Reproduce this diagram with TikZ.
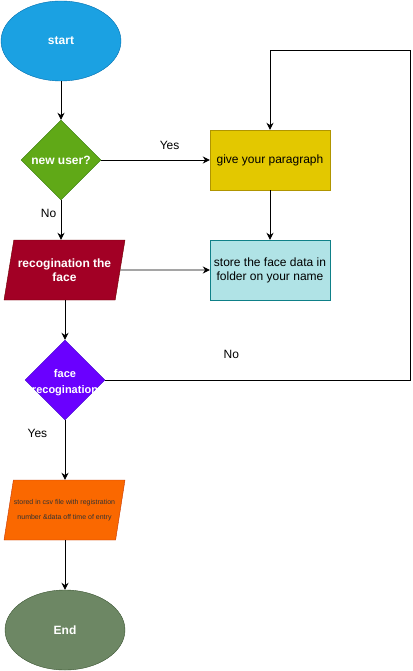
\documentclass[tikz,border=0pt]{standalone}
\usepackage{fontspec}
\setmainfont{Liberation Sans}
\usetikzlibrary{shapes.geometric, arrows.meta}

\definecolor{startfill}{HTML}{1BA1E2}
\definecolor{startline}{HTML}{006EAF}
\definecolor{userfill}{HTML}{60A917}
\definecolor{userline}{HTML}{2D7600}
\definecolor{givefill}{HTML}{E3C800}
\definecolor{giveline}{HTML}{B09500}
\definecolor{storefill}{HTML}{B0E3E6}
\definecolor{storeline}{HTML}{0E8088}
\definecolor{recogfill}{HTML}{A20025}
\definecolor{recogline}{HTML}{6F0000}
\definecolor{facefill}{HTML}{6A00FF}
\definecolor{faceline}{HTML}{3700CC}
\definecolor{csvfill}{HTML}{FA6800}
\definecolor{csvline}{HTML}{C73500}
\definecolor{endfill}{HTML}{6D8764}
\definecolor{endline}{HTML}{3A5431}

\begin{document}
\begin{tikzpicture}[x=1pt, y=-1pt,
  every node/.style={font=\fontsize{12}{14}\selectfont, align=center},
  terminal/.style={ellipse, draw, minimum width=120pt, minimum height=80pt, text=white, font=\fontsize{12}{14}\selectfont\bfseries},
  decision/.style={diamond, draw, minimum width=80pt, minimum height=80pt, inner sep=0pt},
  process/.style={rectangle, draw, minimum width=120pt, minimum height=60pt},
  inout/.style={trapezium, draw, trapezium left angle=71.57, trapezium right angle=108.43, trapezium stretches body, minimum width=121pt, minimum height=60pt, inner xsep=0pt},
  flow/.style={-{Stealth[length=7pt, width=7pt]}, line width=0.9pt},
  white text/.style={text=white, font=\fontsize{12}{14}\selectfont\bfseries}]
  \useasboundingbox (0,0) rectangle (412,671);

  \node[terminal, fill=startfill, draw=startline] (start) at (61,41) {start};
  \node[decision, fill=userfill, draw=userline,
    label={[white text]center:new user?}] (newuser) at (61,160) {};
  \node[process, fill=givefill, draw=giveline] (give) at (270,160) {give your paragraph};
  \node[process, fill=storefill, draw=storeline] (store) at (270,270) {store the face data in\\folder on your name};
  \node[inout, fill=recogfill, draw=recogline, white text] (recog) at (64.5,270) {recogination the\\face};
  \node[decision, fill=facefill, draw=faceline,
    label={[white text, font=\fontsize{11}{16}\selectfont\bfseries, yshift=-3pt]center:face\\recogination}] (face) at (65,380) {};
  \node[inout, fill=csvfill, draw=csvline, text=black!80, font=\fontsize{7}{15}\selectfont] (csv) at (64.5,510) {stored in csv file with registration\\number \&data off time of entry};
  \node[terminal, fill=endfill, draw=endline] (end) at (65,630) {End};
  \coordinate (turn) at (410,50);

  \draw[flow] (start) -- (newuser);
  \draw[flow] (newuser.east) -- node[pos=0.63, above=7pt] {Yes} (give.west);
  \draw[flow] (give) -- (store);
  \draw[flow] (newuser.south) -- node[pos=0.33, left=1pt] {No} (newuser.south |- recog.north);
  \draw[flow] (recog.east) -- (store.west);
  \draw[flow] (recog.south -| face.north) -- (face.north);
  \draw[flow] (face.east) -| node[pos=0.207, above=18pt] {No} (turn) -| (give.north);
  \draw[flow] (face.south) -- node[pos=0.23, left=14pt] {Yes} (csv.north -| face.south);
  \draw[flow] (csv.south -| end.north) -- (end.north);
\end{tikzpicture}
\end{document}
